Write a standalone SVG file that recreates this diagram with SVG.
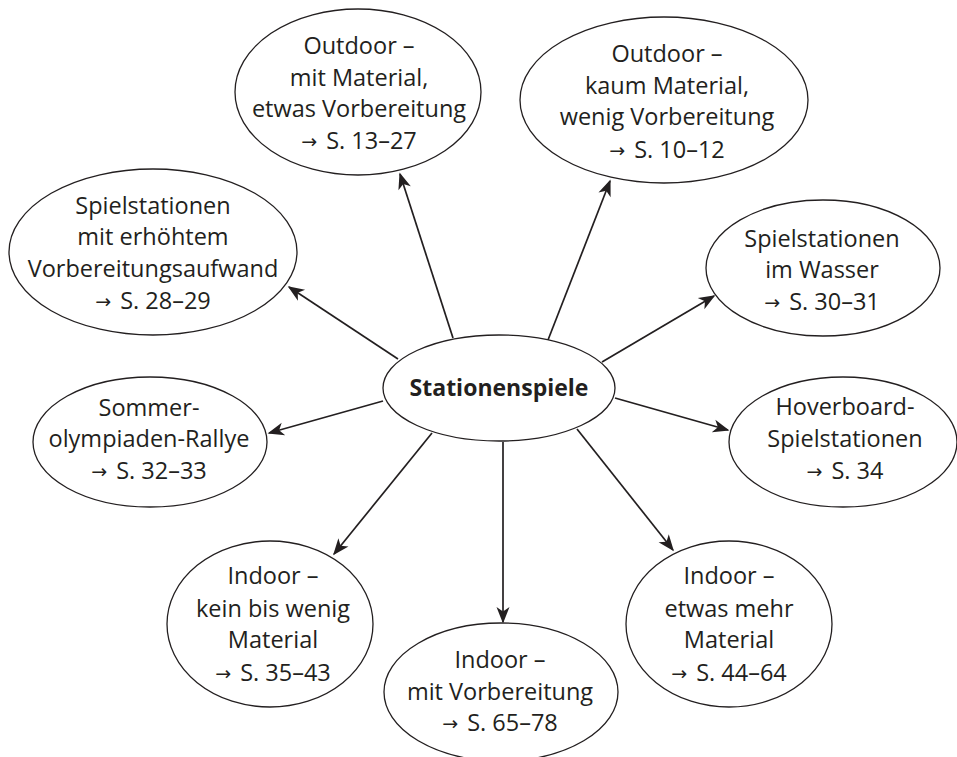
<svg xmlns="http://www.w3.org/2000/svg" width="957" height="757" viewBox="0 0 957 757">
<defs>
<style>
.node ellipse{fill:#fff;stroke:#231f20;stroke-width:1.3}
.node text{font-family:"Open Sans","Noto Sans","Liberation Sans",sans-serif;font-size:23.5px;fill:#231f20;text-anchor:middle}
.node text.b{font-weight:bold;font-size:23px}
.node text tspan.ar{font-family:"DejaVu Sans",sans-serif;font-size:19px}
#edges line{stroke:#231f20;stroke-width:1.7;fill:none}
</style>
<marker id="ah" viewBox="-16 -7 18 14" refX="0" refY="0" markerWidth="18" markerHeight="14" markerUnits="userSpaceOnUse" orient="auto">
<path d="M1.5,0 L-15,-6.5 L-10.5,0 L-15,6.5 Z" fill="#231f20"/>
</marker>
</defs>
<rect width="957" height="757" fill="#fff"/>
<g id="edges">
<line x1="453" y1="338" x2="400" y2="174" marker-end="url(#ah)"/>
<line x1="548" y1="340" x2="610" y2="181" marker-end="url(#ah)"/>
<line x1="398" y1="359" x2="289" y2="287" marker-end="url(#ah)"/>
<line x1="602" y1="362" x2="714" y2="296" marker-end="url(#ah)"/>
<line x1="383" y1="401" x2="269" y2="433" marker-end="url(#ah)"/>
<line x1="615" y1="398" x2="728" y2="430" marker-end="url(#ah)"/>
<line x1="432" y1="433" x2="334" y2="554" marker-end="url(#ah)"/>
<line x1="503" y1="442" x2="503" y2="622" marker-end="url(#ah)"/>
<line x1="577" y1="429" x2="673" y2="550" marker-end="url(#ah)"/>
</g>
<g id="n_center" class="node">
<ellipse cx="499" cy="388" rx="116" ry="53"/>
<text class="b" x="499" y="396">Stationenspiele</text>
</g>
<g id="n_outdoor_mit" class="node">
<ellipse cx="358" cy="92" rx="123" ry="83"/>
<text x="359" y="54">Outdoor –</text>
<text x="359" y="86">mit Material,</text>
<text x="359" y="117">etwas Vorbereitung</text>
<text x="359" y="149"><tspan class="ar" dy="-1">→</tspan><tspan dx="9" dy="1">S. 13–27</tspan></text>
</g>
<g id="n_outdoor_kaum" class="node">
<ellipse cx="664" cy="100" rx="144" ry="83"/>
<text x="667" y="62">Outdoor –</text>
<text x="667" y="94">kaum Material,</text>
<text x="667" y="125">wenig Vorbereitung</text>
<text x="667" y="158"><tspan class="ar" dy="-1">→</tspan><tspan dx="9" dy="1">S. 10–12</tspan></text>
</g>
<g id="n_erhoeht" class="node">
<ellipse cx="153" cy="252" rx="144" ry="83"/>
<text x="153" y="214">Spielstationen</text>
<text x="153" y="245">mit erhöhtem</text>
<text x="153" y="277">Vorbereitungsaufwand</text>
<text x="153" y="309"><tspan class="ar" dy="-1">→</tspan><tspan dx="9" dy="1">S. 28–29</tspan></text>
</g>
<g id="n_wasser" class="node">
<ellipse cx="823" cy="268" rx="117" ry="68"/>
<text x="822" y="247">Spielstationen</text>
<text x="822" y="278">im Wasser</text>
<text x="822" y="310"><tspan class="ar" dy="-1">→</tspan><tspan dx="9" dy="1">S. 30–31</tspan></text>
</g>
<g id="n_sommer" class="node">
<ellipse cx="150" cy="442" rx="117" ry="65"/>
<text x="149" y="416">Sommer-</text>
<text x="149" y="447">olympiaden-Rallye</text>
<text x="149" y="479"><tspan class="ar" dy="-1">→</tspan><tspan dx="9" dy="1">S. 32–33</tspan></text>
</g>
<g id="n_hover" class="node">
<ellipse cx="843" cy="442" rx="114" ry="65"/>
<text x="845" y="415">Hoverboard-</text>
<text x="845" y="447">Spielstationen</text>
<text x="845" y="479"><tspan class="ar" dy="-1">→</tspan><tspan dx="9" dy="1">S. 34</tspan></text>
</g>
<g id="n_indoor_kein" class="node">
<ellipse cx="270" cy="624" rx="103" ry="83"/>
<text x="273" y="584">Indoor –</text>
<text x="273" y="617">kein bis wenig</text>
<text x="273" y="648">Material</text>
<text x="273" y="681"><tspan class="ar" dy="-1">→</tspan><tspan dx="9" dy="1">S. 35–43</tspan></text>
</g>
<g id="n_indoor_vorb" class="node">
<ellipse cx="501" cy="692" rx="117" ry="69"/>
<text x="500" y="668">Indoor –</text>
<text x="500" y="700">mit Vorbereitung</text>
<text x="500" y="731"><tspan class="ar" dy="-1">→</tspan><tspan dx="9" dy="1">S. 65–78</tspan></text>
</g>
<g id="n_indoor_etwas" class="node">
<ellipse cx="729" cy="624" rx="103" ry="83"/>
<text x="729" y="584">Indoor –</text>
<text x="729" y="617">etwas mehr</text>
<text x="729" y="648">Material</text>
<text x="729" y="681"><tspan class="ar" dy="-1">→</tspan><tspan dx="9" dy="1">S. 44–64</tspan></text>
</g>
</svg>
